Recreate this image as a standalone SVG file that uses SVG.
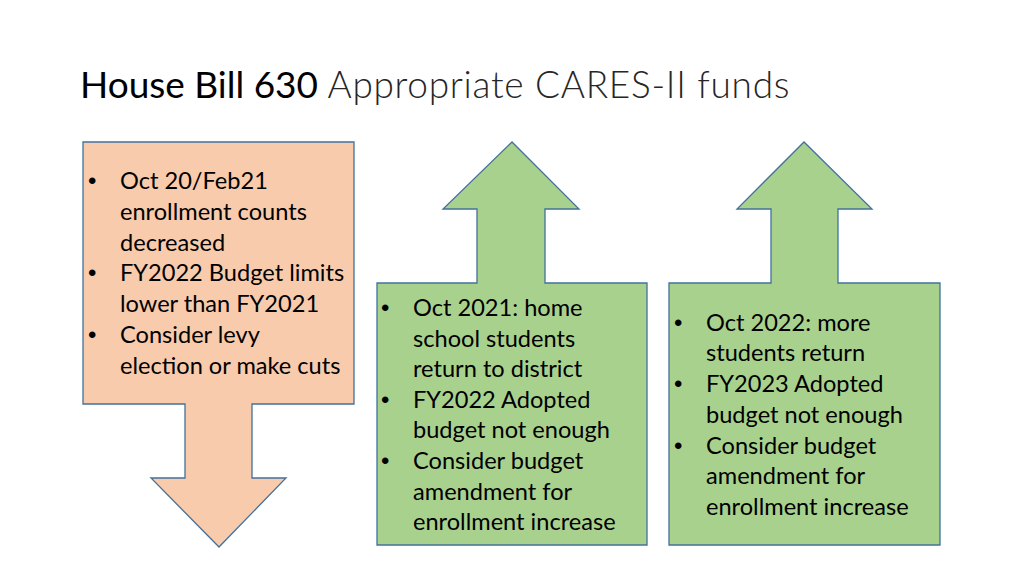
<svg xmlns="http://www.w3.org/2000/svg" width="1024" height="576" viewBox="0 0 1024 576">
<style>
.t{font-family:Lato,"Open Sans","Liberation Sans",sans-serif;font-size:23.6px;fill:#000}
.b{font-family:"Liberation Sans",sans-serif;font-size:24px;fill:#000}
.peach{fill:#F8CBAD;stroke:#41719C;stroke-width:1.3}
.green{fill:#A9D18E;stroke:#41719C;stroke-width:1.3}
.title{font-family:Lato,"Open Sans","Liberation Sans",sans-serif;font-size:37px}
</style>
<rect width="1024" height="576" fill="#fff"/>
<g id="title">
<text x="80" y="98" class="title"><tspan fill="#000" font-weight="400">House Bill 630</tspan><tspan fill="#262626" font-weight="300" letter-spacing="0.7"> Appropriate CARES-II funds</tspan></text>
</g>
<g id="node-decrease">
<path class="peach" d="M83,142 H354 V404 H252 V478 H286 L219,547 L151,478 H185 V404 H83 Z"/>
<text class="b" x="88" y="189">•</text><text class="t" x="120" y="189">Oct 20/Feb21</text>
<text class="t" x="120" y="220">enrollment counts</text>
<text class="t" x="120" y="251">decreased</text>
<text class="b" x="88" y="281">•</text><text class="t" x="120" y="281">FY2022 Budget limits</text>
<text class="t" x="120" y="312">lower than FY2021</text>
<text class="b" x="88" y="343">•</text><text class="t" x="120" y="343">Consider levy</text>
<text class="t" x="120" y="374">election or make cuts</text>
</g>
<g id="node-2021">
<path class="green" d="M377,283 H477 V209 H443 L512,142 L579,209 H545 V283 H647 V545 H377 Z"/>
<text class="b" x="381" y="316">•</text><text class="t" x="413" y="316">Oct 2021: home</text>
<text class="t" x="413" y="347">school students</text>
<text class="t" x="413" y="377">return to district</text>
<text class="b" x="381" y="408">•</text><text class="t" x="413" y="408">FY2022 Adopted</text>
<text class="t" x="413" y="438">budget not enough</text>
<text class="b" x="381" y="469">•</text><text class="t" x="413" y="469">Consider budget</text>
<text class="t" x="413" y="500">amendment for</text>
<text class="t" x="413" y="530">enrollment increase</text>
</g>
<g id="node-2022">
<path class="green" d="M669,283 H771 V209 H737 L804,142 L872,209 H838 V283 H940 V545 H669 Z"/>
<text class="b" x="674" y="331">•</text><text class="t" x="706" y="331">Oct 2022: more</text>
<text class="t" x="706" y="361">students return</text>
<text class="b" x="674" y="392">•</text><text class="t" x="706" y="392">FY2023 Adopted</text>
<text class="t" x="706" y="423">budget not enough</text>
<text class="b" x="674" y="454">•</text><text class="t" x="706" y="454">Consider budget</text>
<text class="t" x="706" y="484">amendment for</text>
<text class="t" x="706" y="515">enrollment increase</text>
</g>
</svg>
